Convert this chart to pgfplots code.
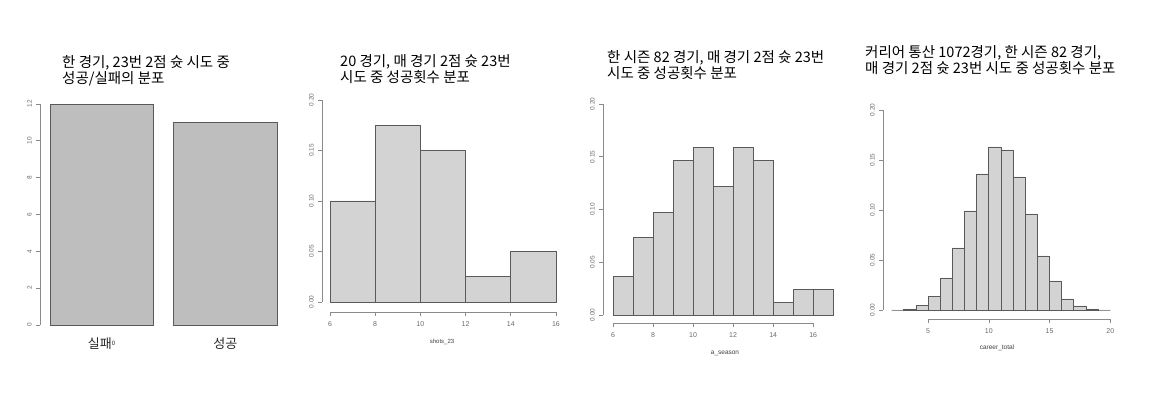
\documentclass[border=0pt]{standalone}
\usepackage{fontspec}
\setmainfont{Liberation Sans}
\newfontfamily\kr{Noto Sans CJK KR}
\usepackage{pgfplots}
\pgfplotsset{compat=1.18}
\definecolor{barA}{HTML}{BEBEBE}
\definecolor{histfill}{HTML}{D3D3D3}
\definecolor{edge}{HTML}{5A5A5A}
\definecolor{axcol}{HTML}{8A8A8A}
\definecolor{labcol}{HTML}{6A6A6A}
\pgfplotsset{
  rstyle/.style={
    scale only axis, clip=false,
    axis x line*=bottom, axis y line*=left,
    axis line style={draw=none},
    tick align=outside, major tick length=4pt,
    tick style={color=axcol, line width=0.7pt},
    ytick style={color=axcol, line width=0.7pt},
    yticklabel style={font=\fontsize{6.5}{6.5}\selectfont, text=labcol, inner xsep=0pt, inner ysep=4pt, rotate=90, anchor=south},
    xticklabel style={font=\fontsize{7}{7}\selectfont, text=labcol, inner sep=0pt, yshift=-5pt},
    /pgf/number format/assume math mode=true,
    scaled y ticks=false,
  },
  hbar/.style={ybar interval, fill=histfill, draw=edge, line width=0.8pt},
}
\newcommand\ttl{\kr\fontsize{14.5}{16}\selectfont}
\begin{document}
\begin{tikzpicture}[x=1pt,y=1pt]
\path[use as bounding box] (0,0) rectangle (1157,396);
% ---------- Panel 1 ----------
\begin{axis}[rstyle, at={(40pt,71pt)}, anchor=south west, width=246pt, height=221pt,
  xmin=0.103, xmax=2.488, ymin=0, ymax=12,
  ytick={0,2,4,6,8,10,12},
  xtick={0.7,1.9}, xticklabels={{\kr 실패}\raisebox{3pt}{\fontsize{6}{6}\selectfont 0},{\kr 성공}},
  xtick style={draw=none},
  xticklabel style={font=\kr\fontsize{13}{13}\selectfont, text=black!85, yshift=-4pt},
  ]
\addplot[ybar interval, fill=barA, draw=edge, line width=0.8pt] coordinates {(0.2,12) (1.2,12)};
\addplot[ybar interval, fill=barA, draw=edge, line width=0.8pt] coordinates {(1.4,11) (2.4,11)};
\draw[axcol, line width=0.7pt] (axis cs:0.103,0) -- (axis cs:0.103,12);
\end{axis}
\node[anchor=north west, inner sep=0pt, align=left, font=\ttl] at (62,341)
  {한 경기, 23번 2점 슛 시도 중\\성공/실패의 분포};
% ---------- Panel 2 ----------
\begin{axis}[rstyle, at={(322pt,84pt)}, anchor=south west, width=243pt, height=212pt,
  xmin=5.646, xmax=16.4, ymin=-0.0099, ymax=0.2,
  ytick={0,0.05,0.1,0.15,0.2}, yticklabels={0.00,0.05,0.10,0.15,0.20},
  xtick={6,8,10,12,14,16},
  ]
\addplot[hbar] coordinates {(6,0.10) (8,0.175) (10,0.15) (12,0.025) (14,0.05) (16,0.05)};
\draw[axcol, line width=0.7pt] (axis cs:5.646,0) -- (axis cs:5.646,0.2);
\draw[axcol, line width=0.7pt] (axis cs:6,-0.0099) -- (axis cs:16,-0.0099);
\end{axis}
\node[anchor=north west, inner sep=0pt, align=left, font=\ttl] at (340,342)
  {20 경기, 매 경기 2점 슛 23번\\시도 중 성공횟수 분포};
\node[font=\fontsize{6}{6}\selectfont, text=black!75] at (442,54) {shots\_23};
% ---------- Panel 3 ----------
\begin{axis}[rstyle, at={(603pt,73pt)}, anchor=south west, width=239pt, height=219pt,
  xmin=5.5, xmax=17.44, ymin=-0.0076, ymax=0.2,
  ytick={0,0.05,0.1,0.15,0.2}, yticklabels={0.00,0.05,0.10,0.15,0.20},
  xtick={6,8,10,12,14,16},
  ]
\addplot[hbar] coordinates {(6,0.0366) (7,0.0732) (8,0.0976) (9,0.1463) (10,0.1585) (11,0.1220) (12,0.1585) (13,0.1463) (14,0.0122) (15,0.0244) (16,0.0244) (17,0.0244)};
\draw[axcol, line width=0.7pt] (axis cs:5.5,0) -- (axis cs:5.5,0.2);
\draw[axcol, line width=0.7pt] (axis cs:6,-0.0076) -- (axis cs:16,-0.0076);
\end{axis}
\node[anchor=north west, inner sep=0pt, align=left, font=\ttl] at (607,346)
  {한 시즌 82 경기, 매 경기 2점 슛 23번\\시도 중 성공횟수 분포};
\node[font=\fontsize{6.5}{6.5}\selectfont, text=black!75] at (725,43) {a\_season};
% ---------- Panel 4 ----------
\begin{axis}[rstyle, at={(883pt,77pt)}, anchor=south west, width=236pt, height=209pt,
  xmin=1.28, xmax=20.72, ymin=-0.009, ymax=0.2,
  ytick={0,0.05,0.1,0.15,0.2}, yticklabels={0.00,0.05,0.10,0.15,0.20},
  xtick={5,10,15,20},
  ]
\addplot[hbar] coordinates {(2,0) (3,0.001) (4,0.0043) (5,0.0133) (6,0.032) (7,0.062) (8,0.099) (9,0.136) (10,0.163) (11,0.160) (12,0.133) (13,0.096) (14,0.054) (15,0.029) (16,0.011) (17,0.004) (18,0.001) (19,0) (20,0)};
\draw[axcol, line width=0.7pt] (axis cs:1.28,0) -- (axis cs:1.28,0.2);
\draw[axcol, line width=0.7pt] (axis cs:5,-0.009) -- (axis cs:20,-0.009);
\end{axis}
\node[anchor=north west, inner sep=0pt, align=left, font=\ttl] at (865,351)
  {커리어 통산 1072경기, 한 시즌 82 경기,\\매 경기 2점 슛 23번 시도 중 성공횟수 분포};
\node[font=\fontsize{6.5}{6.5}\selectfont, text=black!75] at (997,48) {career\_total};
\end{tikzpicture}
\end{document}
